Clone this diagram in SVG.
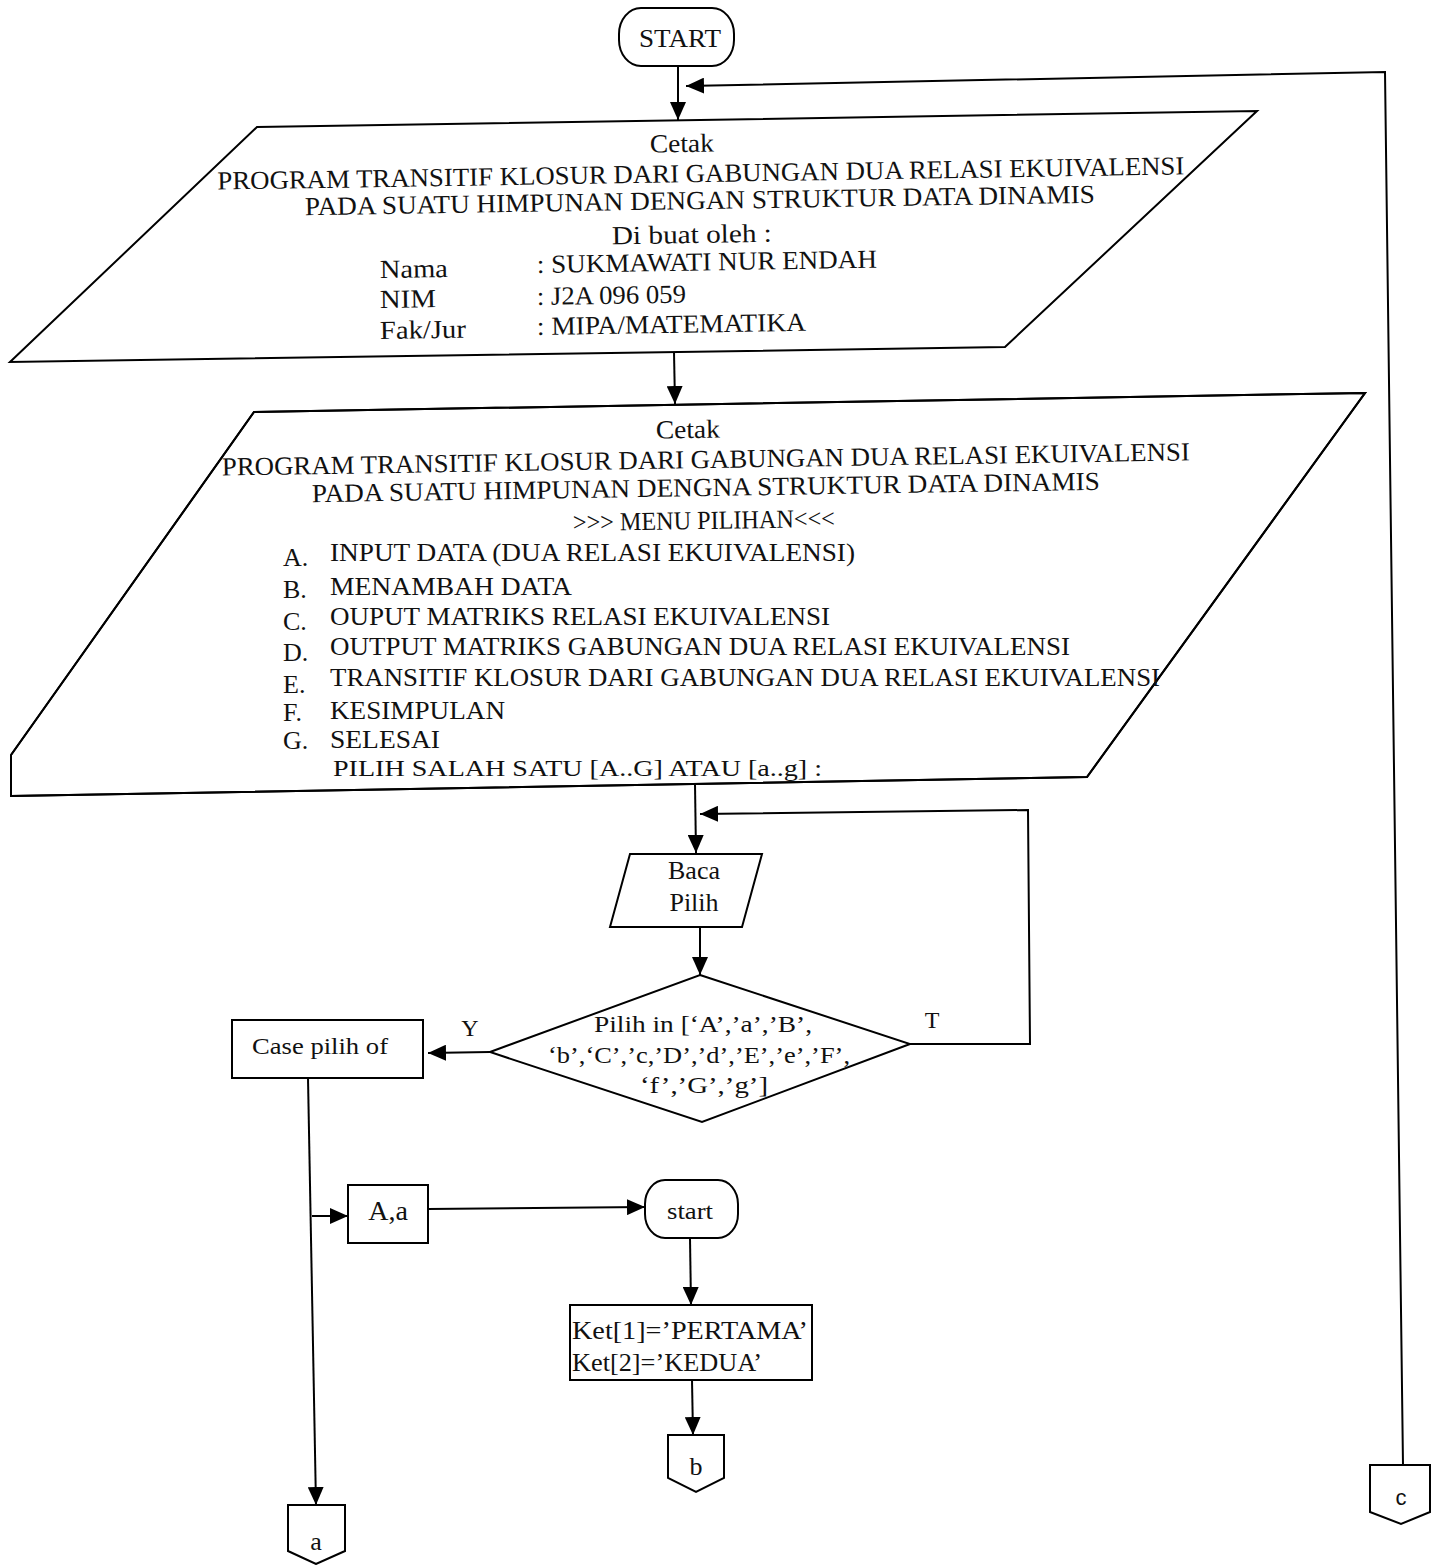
<svg xmlns="http://www.w3.org/2000/svg" width="1441" height="1565" viewBox="0 0 1441 1565">
<style>
.s{fill:#fff;stroke:#000;stroke-width:2}
.c{fill:none;stroke:#000;stroke-width:2}
.t{font-family:"Liberation Serif","Times New Roman",serif;fill:#111;font-size:24px}
.b{font-size:26px}
.m{text-anchor:middle}
.sans{font-family:"Liberation Sans",Arial,sans-serif}
</style>
<defs>
<marker id="ah" viewBox="0 0 18 16" refX="18" refY="8" markerWidth="18" markerHeight="16" markerUnits="userSpaceOnUse" orient="auto">
<path d="M0,0 L18,8 L0,16 z" fill="#000"/>
</marker>
</defs>
<rect width="1441" height="1565" fill="#fff"/>

<g id="connectors">
<path class="c" d="M678,66 L678,120" marker-end="url(#ah)"/>
<path class="c" d="M1403,1465 L1385,72 L686,86" marker-end="url(#ah)"/>
<path class="c" d="M674,352 L675,404" marker-end="url(#ah)"/>
<path class="c" d="M695,784 L696,853" marker-end="url(#ah)"/>
<path class="c" d="M910,1044 L1030,1044 L1028,810 L700,814" marker-end="url(#ah)"/>
<path class="c" d="M700,927 L700,975" marker-end="url(#ah)"/>
<path class="c" d="M490,1052 L428,1053" marker-end="url(#ah)"/>
<path class="c" d="M308,1078 L316,1505" marker-end="url(#ah)"/>
<path class="c" d="M312,1216 L348,1216" marker-end="url(#ah)"/>
<path class="c" d="M428,1209 L645,1207" marker-end="url(#ah)"/>
<path class="c" d="M690,1238 L691,1305" marker-end="url(#ah)"/>
<path class="c" d="M692,1380 L693,1435" marker-end="url(#ah)"/>
</g>

<g id="start">
<rect class="s" x="619" y="8" width="115" height="58" rx="22" ry="26"/>
<text class="t b m" x="680" y="47" textLength="82" lengthAdjust="spacingAndGlyphs">START</text>
</g>

<g id="cetak1">
<path class="s" d="M257,127 L1257,111 L1005,347 L10,362 Z"/>
<text class="t b m" x="682" y="152" transform="rotate(-0.9 682 152)" textLength="64" lengthAdjust="spacingAndGlyphs">Cetak</text>
<text class="t b m" x="701" y="182" transform="rotate(-0.9 701 182)" textLength="967" lengthAdjust="spacingAndGlyphs">PROGRAM TRANSITIF KLOSUR DARI GABUNGAN DUA RELASI EKUIVALENSI</text>
<text class="t b m" x="700" y="209" transform="rotate(-0.9 700 209)" textLength="790" lengthAdjust="spacingAndGlyphs">PADA SUATU HIMPUNAN DENGAN STRUKTUR DATA DINAMIS</text>
<text class="t b m" x="692" y="243" transform="rotate(-0.9 692 243)" textLength="160" lengthAdjust="spacingAndGlyphs">Di buat oleh :</text>
<text class="t b" x="380" y="278" transform="rotate(-0.9 380 278)" textLength="68" lengthAdjust="spacingAndGlyphs">Nama</text>
<text class="t b" x="537" y="273" transform="rotate(-0.9 537 273)" textLength="340" lengthAdjust="spacingAndGlyphs">: SUKMAWATI NUR ENDAH</text>
<text class="t b" x="380" y="308" transform="rotate(-0.9 380 308)" textLength="56" lengthAdjust="spacingAndGlyphs">NIM</text>
<text class="t b" x="537" y="305" transform="rotate(-0.9 537 305)" textLength="149" lengthAdjust="spacingAndGlyphs">: J2A 096 059</text>
<text class="t b" x="380" y="339" transform="rotate(-0.9 380 339)" textLength="86" lengthAdjust="spacingAndGlyphs">Fak/Jur</text>
<text class="t b" x="537" y="335" transform="rotate(-0.9 537 335)" textLength="269" lengthAdjust="spacingAndGlyphs">: MIPA/MATEMATIKA</text>
</g>

<g id="cetak2">
<path class="s" d="M254,412 L1365,393 L1087,777 L11,796 L11,755 Z" stroke="none"/>
<path class="c" d="M11,755 L254,412 L1365,393 L1087,777 L11,796"/>
<text class="t b m" x="688" y="438" transform="rotate(-0.9 688 438)" textLength="64" lengthAdjust="spacingAndGlyphs">Cetak</text>
<text class="t b m" x="706" y="468" transform="rotate(-0.9 706 468)" textLength="968" lengthAdjust="spacingAndGlyphs">PROGRAM TRANSITIF KLOSUR DARI GABUNGAN DUA RELASI EKUIVALENSI</text>
<text class="t b m" x="706" y="496" transform="rotate(-0.9 706 496)" textLength="788" lengthAdjust="spacingAndGlyphs">PADA SUATU HIMPUNAN DENGNA STRUKTUR DATA DINAMIS</text>
<text class="t b m" x="704" y="529" transform="rotate(-0.9 704 529)" textLength="262" lengthAdjust="spacingAndGlyphs">&gt;&gt;&gt; MENU PILIHAN&lt;&lt;&lt;</text>
<text class="t b" x="283" y="566">A.</text><text class="t b" x="330" y="561" textLength="525" lengthAdjust="spacingAndGlyphs">INPUT DATA (DUA RELASI EKUIVALENSI)</text>
<text class="t b" x="283" y="598">B.</text><text class="t b" x="330" y="595" textLength="242" lengthAdjust="spacingAndGlyphs">MENAMBAH DATA</text>
<text class="t b" x="283" y="630">C.</text><text class="t b" x="330" y="625" textLength="500" lengthAdjust="spacingAndGlyphs">OUPUT MATRIKS RELASI EKUIVALENSI</text>
<text class="t b" x="283" y="661">D.</text><text class="t b" x="330" y="655" textLength="740" lengthAdjust="spacingAndGlyphs">OUTPUT MATRIKS GABUNGAN DUA RELASI EKUIVALENSI</text>
<text class="t b" x="283" y="693">E.</text><text class="t b" x="330" y="686" textLength="830" lengthAdjust="spacingAndGlyphs">TRANSITIF KLOSUR DARI GABUNGAN DUA RELASI EKUIVALENSI</text>
<text class="t b" x="283" y="721">F.</text><text class="t b" x="330" y="719" textLength="175" lengthAdjust="spacingAndGlyphs">KESIMPULAN</text>
<text class="t b" x="283" y="749">G.</text><text class="t b" x="330" y="748" textLength="110" lengthAdjust="spacingAndGlyphs">SELESAI</text>
<text class="t" x="333" y="776" textLength="489" lengthAdjust="spacingAndGlyphs">PILIH SALAH SATU [A..G] ATAU [a..g] :</text>
</g>

<g id="baca">
<path class="s" d="M630,854 L762,854 L742,927 L610,927 Z"/>
<text class="t b m" x="694" y="879">Baca</text>
<text class="t b m" x="694" y="911">Pilih</text>
</g>

<g id="decision">
<path class="s" d="M700,975 L910,1044 L702,1122 L490,1052 Z"/>
<text class="t m" x="703" y="1032" textLength="218" lengthAdjust="spacingAndGlyphs">Pilih in [‘A’,’a’,’B’,</text>
<text class="t m" x="699" y="1063" textLength="302" lengthAdjust="spacingAndGlyphs">‘b’,‘C’,’c,’D’,’d’,’E’,’e’,’F’,</text>
<text class="t m" x="704" y="1093" textLength="128" lengthAdjust="spacingAndGlyphs">‘f’,’G’,’g’]</text>
<text class="t m" x="470" y="1036">Y</text>
<text class="t m" x="932" y="1028">T</text>
</g>

<g id="case">
<rect class="s" x="232" y="1020" width="191" height="58"/>
<text class="t m" x="320" y="1054" textLength="136" lengthAdjust="spacingAndGlyphs">Case pilih of</text>
</g>

<g id="aa">
<rect class="s" x="348" y="1185" width="80" height="58"/>
<text class="t m" x="388" y="1220" style="font-size:28px">A,a</text>
</g>

<g id="start2">
<rect class="s" x="645" y="1180" width="93" height="58" rx="20" ry="24"/>
<text class="t m" x="690" y="1219" textLength="46" lengthAdjust="spacingAndGlyphs">start</text>
</g>

<g id="ket">
<rect class="s" x="570" y="1305" width="242" height="75"/>
<text class="t b" x="572" y="1339" textLength="236" lengthAdjust="spacingAndGlyphs">Ket[1]=’PERTAMA’</text>
<text class="t b" x="572" y="1371" textLength="190" lengthAdjust="spacingAndGlyphs">Ket[2]=’KEDUA’</text>
</g>

<g id="conn-b">
<path class="s" d="M668,1435 L724,1435 L724,1478 L696,1492 L668,1478 Z"/>
<text class="t b m" x="696" y="1475">b</text>
</g>

<g id="conn-a">
<path class="s" d="M288,1505 L345,1505 L345,1551 L316,1564 L288,1551 Z"/>
<text class="t b m" x="316" y="1550">a</text>
</g>

<g id="conn-c">
<path class="s" d="M1370,1465 L1430,1465 L1430,1512 L1401,1524 L1370,1512 Z"/>
<text class="t m sans" x="1401" y="1505" style="font-size:22px">c</text>
</g>
</svg>
